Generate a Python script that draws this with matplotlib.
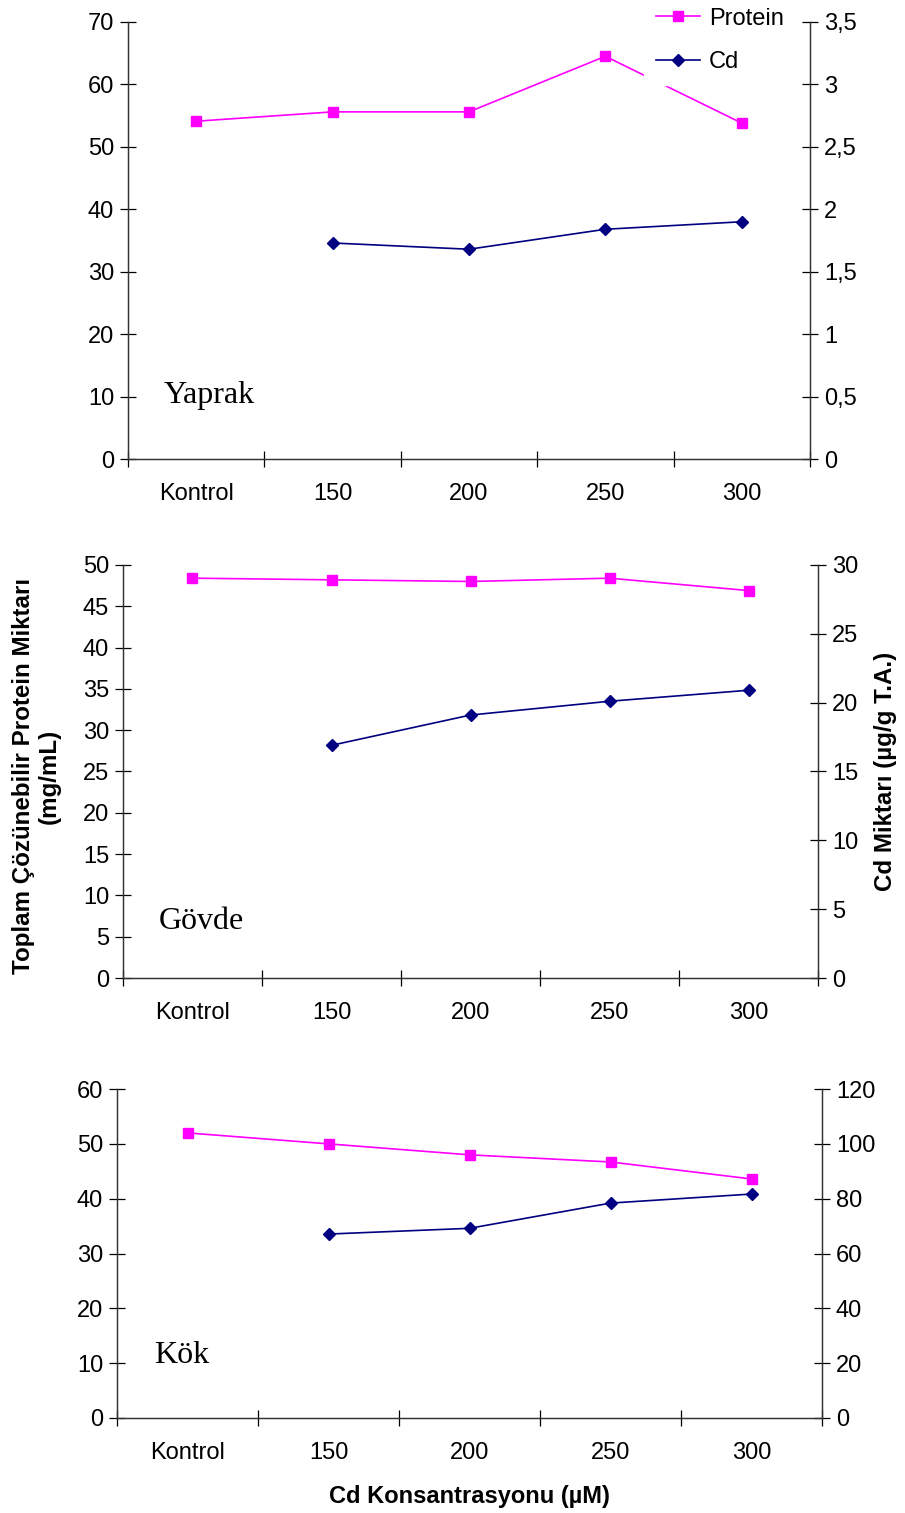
import numpy as np
import matplotlib.pyplot as plt

plt.rcParams['font.family'] = ['Liberation Sans', 'DejaVu Sans']

categories = ["Kontrol", "150", "200", "250", "300"]
cd_levels = ["150", "200", "250", "300"]

# Yaprak (leaf)
yaprak_protein = [54.1, 55.6, 55.6, 64.5, 53.8]
yaprak_cd = [1.73, 1.68, 1.84, 1.90]
# Gövde (stem)
govde_protein = [48.4, 48.2, 48.0, 48.4, 46.9]
govde_cd = [16.9, 19.1, 20.1, 20.9]
# Kök (root)
kok_protein = [52.0, 50.0, 48.0, 46.7, 43.6]
kok_cd = [67.1, 69.2, 78.4, 81.7]

panels = [
    ("Yaprak", yaprak_protein, yaprak_cd, (0, 70, 10), (0, 3.5, 0.5),
     [0.1414, 0.6966, 0.7536, 0.2889], 0.146),
    ("Gövde", govde_protein, govde_cd, (0, 50, 5), (0, 30, 5),
     [0.1359, 0.3536, 0.7680, 0.2730], 0.136),
    ("Kök", kok_protein, kok_cd, (0, 60, 10), (0, 120, 20),
     [0.1293, 0.0628, 0.7790, 0.2174], 0.19),
]

PINK = "#FF00FF"
NAVY = "#000080"
TICK_FS = 17

fig = plt.figure(figsize=(9.05, 15.13), dpi=100)


def fmt(v):
    s = f"{v:g}"
    return s.replace(".", ",")


axes = []
for name, prot, cd, lrng, rrng, rect, name_y in panels:
    ax = fig.add_axes(rect)
    ax2 = ax.twinx()
    x = np.arange(len(categories))
    xc = np.arange(1, len(categories))

    ax.plot(x, prot, color=PINK, lw=1.2, marker="s", ms=7, mec=PINK,
            label="Protein", zorder=3)
    ax2.plot(xc, cd, color=NAVY, lw=1.2, marker="D", ms=6, mec=NAVY,
             label="Cd", zorder=3)

    ax.set_xlim(-0.5, len(categories) - 0.5)
    ax.set_ylim(lrng[0], lrng[1])
    ax2.set_ylim(rrng[0], rrng[1])
    lt = np.arange(lrng[0], lrng[1] + lrng[2] / 2, lrng[2])
    rt = np.arange(rrng[0], rrng[1] + rrng[2] / 2, rrng[2])
    ax.set_yticks(lt)
    ax.set_yticklabels([fmt(v) for v in lt])
    ax2.set_yticks(rt)
    ax2.set_yticklabels([fmt(v) for v in rt])

    # boundary ticks between categories, labels centred on categories
    ax.set_xticks(np.arange(-0.5, len(categories), 1.0))
    ax.set_xticklabels([])
    ax.set_xticks(x, minor=True)
    ax.set_xticklabels(categories, minor=True)
    ax.tick_params(axis="x", which="minor", length=0, pad=17.5,
                   labelsize=TICK_FS)
    ax.tick_params(axis="x", which="major", direction="inout", length=12,
                   width=0.9)
    ax.tick_params(axis="y", direction="inout", length=12, width=0.9,
                   labelsize=TICK_FS, pad=4)
    ax2.tick_params(axis="y", direction="inout", length=12, width=0.9,
                    labelsize=TICK_FS, pad=4)

    for a in (ax, ax2):
        a.spines["top"].set_visible(False)
        for s in ("left", "right", "bottom"):
            a.spines[s].set_linewidth(0.9)
            a.spines[s].set_color("#333333")
    ax.patch.set_visible(False)

    ax.text(0.052, name_y, name, transform=ax.transAxes, fontsize=23,
            family=["Liberation Serif", "DejaVu Serif"], va="center")
    axes.append((ax, ax2))

# legend over the leaf panel; white box hides the line behind it
ax, ax2 = axes[0]
h1, l1 = ax.get_legend_handles_labels()
h2, l2 = ax2.get_legend_handles_labels()
leg = fig.legend(h1 + h2, l1 + l2, loc="upper left",
                 bbox_to_anchor=(0.6987, 1.0106), frameon=True, fontsize=17,
                 labelspacing=0.92, handlelength=1.85, handletextpad=0.4,
                 borderpad=0.5)
leg.get_frame().set_facecolor("white")
leg.get_frame().set_edgecolor("white")
leg.get_frame().set_alpha(1)

fig.text(0.04, 0.487, "Toplam Çözünebilir Protein Miktarı\n(mg/mL)",
         rotation=90, ha="center", va="center", fontsize=17.4,
         fontweight="bold", linespacing=1.15)
fig.text(0.978, 0.49, "Cd Miktarı (µg/g T.A.)", rotation=90,
         ha="center", va="center", fontsize=17.4, fontweight="bold")
fig.text(0.519, 0.0106, "Cd Konsantrasyonu (µM)", ha="center", va="center",
         fontsize=17, fontweight="bold")

fig.savefig("out.png", dpi=100)
